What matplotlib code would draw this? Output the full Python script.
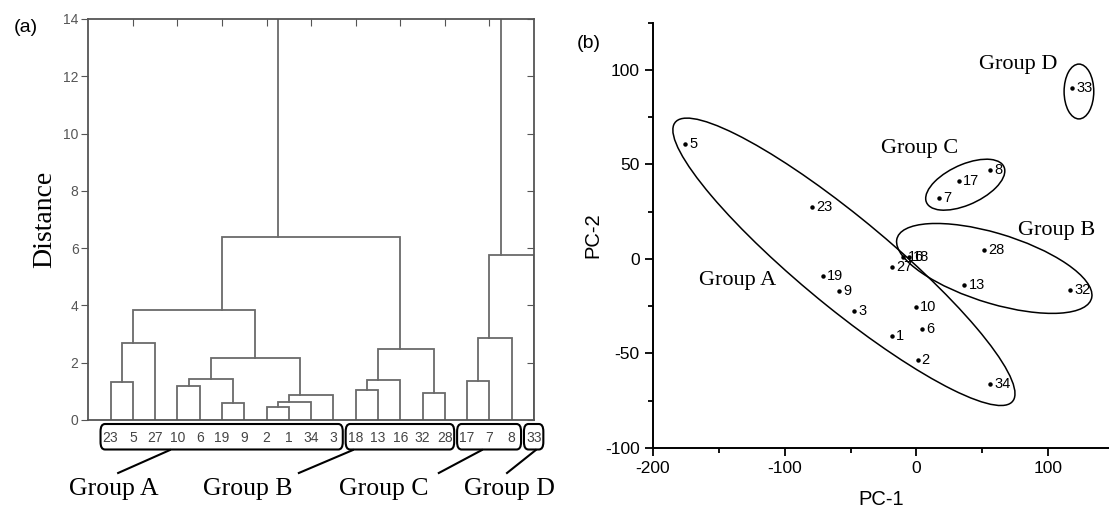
import matplotlib.pyplot as plt
import numpy as np
from matplotlib.patches import Ellipse, FancyBboxPatch
from matplotlib.ticker import MultipleLocator

plt.rcParams['font.family'] = ['Liberation Sans', 'DejaVu Sans']
plt.rcParams['axes.unicode_minus'] = False

# ---- (a) dendrogram data ----
leaf_labels = ['23', '5', '27', '10', '6', '19', '9', '2', '1', '34', '3',
               '18', '13', '16', '32', '28', '17', '7', '8', '33']
# linkage rows: ids 0..19 are leaves (in plotted order), 20+ are clusters
merge_left = [0, 20, 3, 5, 22, 7, 25, 26, 24, 21, 11, 30, 14, 31, 29, 16, 35, 36, 34]
merge_right = [1, 2, 4, 6, 23, 8, 9, 10, 27, 28, 12, 13, 15, 32, 33, 17, 18, 19, 37]
merge_height = [1.32, 2.70, 1.20, 0.61, 1.44, 0.44, 0.64, 0.86, 2.16, 3.84,
                1.04, 1.41, 0.95, 2.49, 6.40, 1.36, 2.88, 5.77, 15.0]

group_names = ['Group A', 'Group B', 'Group C', 'Group D']
group_first_leaf = [1, 12, 17, 20]
group_last_leaf = [11, 16, 19, 20]

# ---- (b) PCA score data ----
pc_labels = ['5', '23', '7', '17', '8', '33', '28', '16', '18', '27', '19', '9',
             '3', '10', '6', '1', '2', '34', '13', '32']
pc1 = [-175.3, -79.0, 17.2, 32.4, 55.7, 117.8, 50.9, -10.0, -5.5, -18.6, -70.8, -58.6,
       -47.2, -0.3, 4.5, -18.8, 0.8, 56.0, 36.3, 116.7]
pc2 = [60.9, 27.5, 32.4, 41.5, 47.2, 90.5, 4.6, 1.0, 1.0, -4.4, -8.8, -16.7,
       -27.6, -25.2, -36.8, -40.7, -53.2, -66.0, -13.6, -16.4]

# group ellipses: centre x, centre y, width, height, angle (data units)
ell_cx = [-55.0, 59.0, 37.0, 123.2]
ell_cy = [-1.5, -5.0, 39.3, 88.6]
ell_w = [296.0, 151.0, 62.0, 22.5]
ell_h = [53.0, 37.6, 22.0, 29.0]
ell_angle = [-29.3, -11.5, 15.6, 0.0]
ell_text_x = [-135.5, 106.6, 2.4, 77.5]
ell_text_y = [-11.4, 15.1, 58.3, 103.0]

fig = plt.figure(figsize=(11.09, 5.12), dpi=100)

# ================= (a) =================
ax = fig.add_axes([0.0796, 0.1797, 0.4019, 0.7832])
n_leaves = len(leaf_labels)
node_x = list(np.arange(1, n_leaves + 1, dtype=float))
node_y = [0.0] * n_leaves
node_leaves = [[i + 1] for i in range(n_leaves)]
line_color = '#6a6a6a'
for a, b, h in zip(merge_left, merge_right, merge_height):
    xa, xb = node_x[a], node_x[b]
    ax.plot([xa, xa, xb, xb], [node_y[a], h, h, node_y[b]],
            color=line_color, lw=1.3, solid_joinstyle='miter')
    leaves = node_leaves[a] + node_leaves[b]
    node_leaves.append(leaves)
    node_x.append(float(np.mean(leaves)))
    node_y.append(h)

ax.set_xlim(0, n_leaves)
ax.set_ylim(0, 14)
ax.set_yticks(np.arange(0, 15, 2))
ax.set_xticks([])
for s in ax.spines.values():
    s.set_color('#555555')
    s.set_linewidth(1.3)
ax.tick_params(axis='y', direction='out', length=5, color='#555555',
               labelcolor='#555555', labelsize=10, pad=2)
right = ax.secondary_yaxis('right')
right.set_yticks(np.arange(0, 15, 2))
right.tick_params(direction='in', length=5, color='#555555', labelright=False)
right.spines['right'].set_visible(False)
top = ax.secondary_xaxis('top')
top.set_xticks(np.arange(2, n_leaves, 2))
top.tick_params(direction='in', length=5, color='#555555', labeltop=False)
top.spines['top'].set_visible(False)

ax.set_ylabel('Distance', family='Liberation Serif', fontsize=20, labelpad=0)
ax.yaxis.set_label_coords(-0.07, 0.5)

for i, lab in enumerate(leaf_labels):
    ax.text(i + 1, -0.64, lab, ha='center', va='center', fontsize=10,
            color='#444444', clip_on=False)

text_x = [1.13, 7.16, 13.28, 18.9]
conn_x0 = [3.66, 11.87, 17.66, 20.08]
conn_x1 = [1.34, 9.45, 15.73, 18.79]
for k, name in enumerate(group_names):
    x0 = group_first_leaf[k] - 0.45
    x1 = group_last_leaf[k] + 0.42
    box = FancyBboxPatch((x0, -1.03), x1 - x0, 0.89,
                         boxstyle='round,pad=0,rounding_size=0.2',
                         mutation_aspect=1.3, fc='none', ec='black', lw=1.5,
                         clip_on=False)
    ax.add_patch(box)
    ax.plot([conn_x0[k], conn_x1[k]], [-1.05, -1.85], color='black', lw=1.5,
            clip_on=False)
    ax.text(text_x[k], -2.62, name, ha='center', va='baseline',
            family='Liberation Serif', fontsize=18.5, clip_on=False)

fig.text(26 / 1109, 1 - 28 / 512, '(a)', ha='center', va='center', fontsize=14)

# ================= (b) =================
bx = fig.add_axes([652.7 / 1109, 1 - 448 / 512, 1 - 652.7 / 1109, (448 - 22.7) / 512])
bx.plot(pc1, pc2, 'o', color='black', ms=2.2, ls='none')
for lab, x, y in zip(pc_labels, pc1, pc2):
    bx.annotate(lab, (x, y), xytext=(3, 0), textcoords='offset points',
                ha='left', va='center', fontsize=10.5)
for k, name in enumerate(group_names):
    bx.add_patch(Ellipse((ell_cx[k], ell_cy[k]), ell_w[k], ell_h[k],
                         angle=ell_angle[k], fill=False, ec='black', lw=1.1))
    bx.text(ell_text_x[k], ell_text_y[k], name, ha='center', va='center',
            family='Liberation Serif', fontsize=16)

bx.set_xlim(-200, 146)
bx.set_ylim(-100, 125)
bx.set_xticks([-200, -100, 0, 100])
bx.set_yticks([-100, -50, 0, 50, 100])
bx.xaxis.set_minor_locator(MultipleLocator(50))
bx.yaxis.set_minor_locator(MultipleLocator(25))
bx.spines['top'].set_visible(False)
bx.spines['right'].set_visible(False)
for s in ['left', 'bottom']:
    bx.spines[s].set_linewidth(1.4)
bx.tick_params(which='major', direction='out', length=6, width=1.3, labelsize=12.5)
bx.tick_params(which='minor', direction='out', length=3.5, width=1.3)
bx.set_xlabel('PC-1', fontsize=14.5, labelpad=10)
bx.set_ylabel('PC-2', fontsize=14.5, labelpad=2)

fig.text(589 / 1109, 1 - 43 / 512, '(b)', ha='center', va='center', fontsize=14)

fig.savefig('out.png', dpi=100)
